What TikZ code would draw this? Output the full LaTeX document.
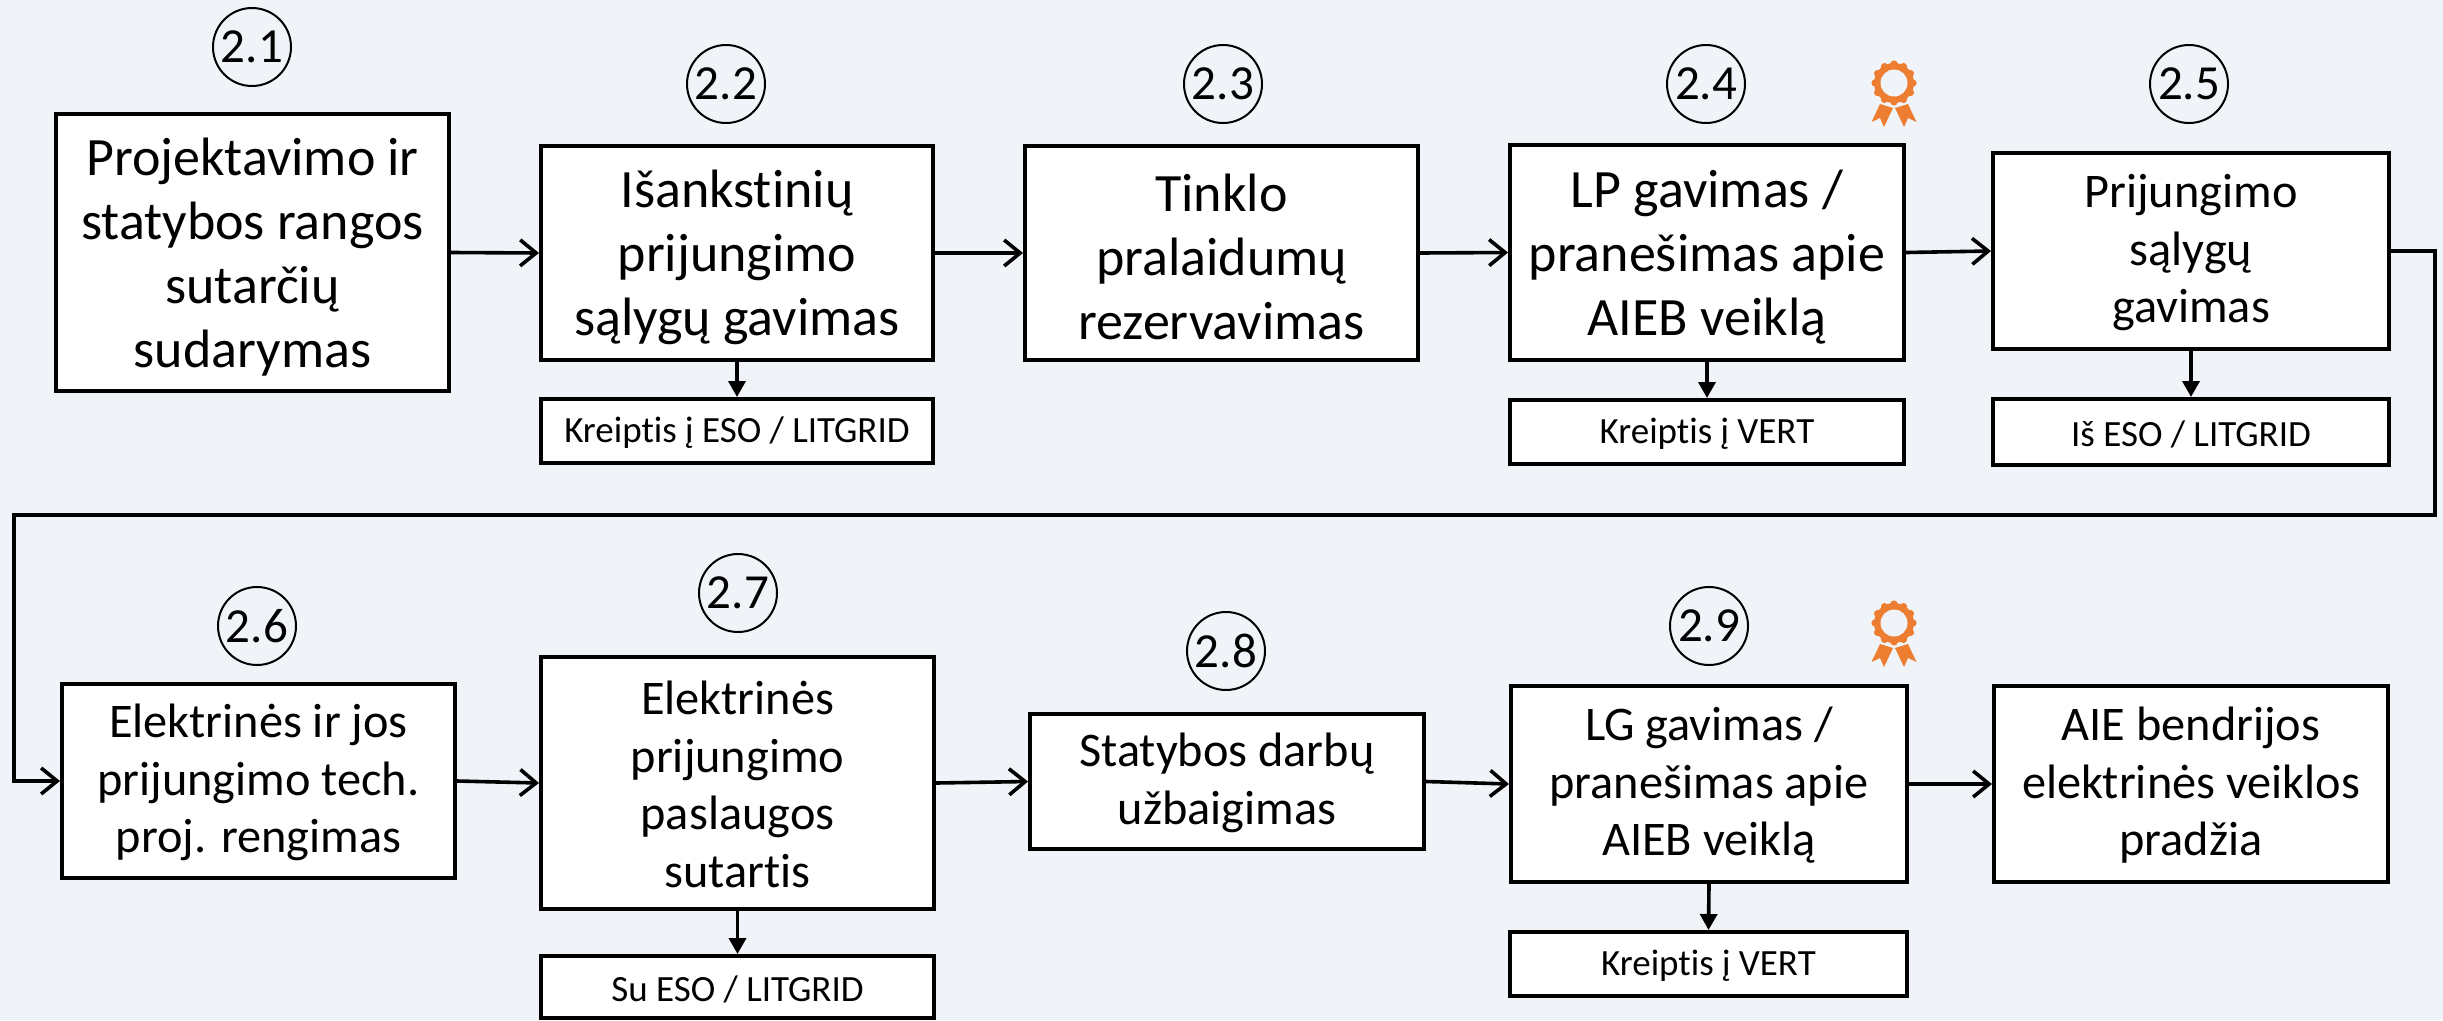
\documentclass[tikz,border=0pt]{standalone}
\usepackage{fontspec}
\setmainfont[RawFeature={-liga}]{Carlito}
\usetikzlibrary{arrows.meta}
\definecolor{bgc}{HTML}{F0F4F8}
\definecolor{medalc}{HTML}{ED7D31}
\tikzset{
 x=1pt,y=-1pt,
 pbox/.style={draw=black,fill=white,line width=4pt,align=center,inner sep=0pt,minimum width=#1},
 pbox/.default=393pt,
 big/.style={font=\fontsize{54}{64}\selectfont\def\pbr{.85em}},
 mid/.style={font=\fontsize{48.3}{57.5}\selectfont\def\pbr{.76em}},
 sub/.style={font=\fontsize{37}{40}\selectfont\def\pbr{.8em}},
 num/.style={draw=black,fill=none,circle,line width=2pt,minimum size=78pt,inner sep=0pt,font=\fontsize{49}{50}\selectfont},
 conn/.style={draw=black,line width=3.6pt,-{Straight Barb[length=16pt,width=26pt,line width=3.6pt]}},
 down/.style={draw=black,line width=3.6pt,-{Triangle[length=16pt,width=17pt]}},
}
\newcommand{\medalicon}[2]{%
 \begin{scope}[shift={(#1,#2)}]
  \fill[medalc] (0,0) circle[radius=20];
  \foreach \a in {0,30,...,330}{\fill[medalc] (\a:19) circle[radius=3.6];}
  \fill[bgc] (0,0) circle[radius=13.5];
  \fill[medalc] (-14,21) -- (-1,25) -- (-10,44) -- (-14,35) -- (-22.5,39) -- cycle;
  \fill[medalc] (14,21) -- (1,25) -- (10,44) -- (14,35) -- (22.5,39) -- cycle;
 \end{scope}}
\begin{document}
\begin{tikzpicture}
\useasboundingbox (0,0) rectangle (2443,1020);
\fill[bgc] (0,0) rectangle (2443,1020);
\newcommand{\pb}[7]{\node[pbox=#4-#3,minimum height=#6-#5,#2] (#1) at ({(#3+#4)/2},{(#5+#6)/2}) {\rule{0pt}{\pbr}#7};}
\pb{n1}{big}{56}{449}{114}{391}{Projektavimo ir\\statybos rangos\\sutarčių\\sudarymas}
\pb{n2}{big}{541}{933}{146}{360}{Išankstinių\\prijungimo\\sąlygų gavimas}
\pb{n3}{big}{1025}{1418}{146}{360}{Tinklo\\pralaidumų\\rezervavimas}
\pb{n4}{big}{1510}{1904}{145}{360}{LP gavimas /\\pranešimas apie\\AIEB veiklą}
\pb{n5}{mid}{1993}{2389}{153}{349}{Prijungimo\\sąlygų\\gavimas}
\pb{s2}{sub}{541}{933}{399}{463}{Kreiptis į ESO / LITGRID}
\pb{s4}{sub}{1510}{1904}{400}{464}{Kreiptis į VERT}
\pb{s5}{sub}{1993}{2389}{399}{465}{Iš ESO / LITGRID}
\pb{n6}{mid}{62}{455}{684}{878}{Elektrinės ir jos\\prijungimo tech.\\proj. rengimas}
\pb{n7}{mid}{541}{934}{657}{909}{Elektrinės\\prijungimo\\paslaugos\\sutartis}
\pb{n8}{mid}{1030}{1424}{714}{849}{Statybos darbų\\užbaigimas}
\pb{n9}{mid}{1511}{1907}{686}{882}{LG gavimas /\\pranešimas apie\\AIEB veiklą}
\pb{n10}{mid}{1994}{2388}{686}{882}{AIE bendrijos\\elektrinės veiklos\\pradžia}
\pb{s7}{sub}{541}{934}{956}{1018}{Su ESO / LITGRID}
\pb{s9}{sub}{1510}{1907}{932}{996}{Kreiptis į VERT}
\node[num] (c1) at (252,47) {2.1};
\node[num] (c2) at (726,84) {2.2};
\node[num] (c3) at (1223,84) {2.3};
\node[num] (c4) at (1706,84) {2.4};
\node[num] (c5) at (2189,84) {2.5};
\node[num] (c6) at (257,626) {2.6};
\node[num] (c7) at (738,593) {2.7};
\node[num] (c8) at (1226,651) {2.8};
\node[num] (c9) at (1709,626) {2.9};
\medalicon{1894}{83}
\medalicon{1894}{623}
\draw[conn] (n1.east) -- (n2.west);
\draw[conn] (n2.east) -- (n3.west);
\draw[conn] (n3.east) -- (n4.west);
\draw[conn] (n4.east) -- (n5.west);
\draw[conn] (n6.east) -- (n7.west);
\draw[conn] (n7.east) -- (n8.west);
\draw[conn] (n8.east) -- (n9.west);
\draw[conn] (n9.east) -- (n10.west);
\draw[down] (n2.south) -- (s2.north);
\draw[down] (n4.south) -- (s4.north);
\draw[down] (n5.south) -- (s5.north);
\draw[down] (n7.south) -- (s7.north);
\draw[down] (n9.south) -- (s9.north);
\coordinate (r1) at (2435,515);
\coordinate (r2) at (14,515);
\draw[conn] (n5.east) -| (r1) -- (r2) |- (n6.west);
\end{tikzpicture}
\end{document}
